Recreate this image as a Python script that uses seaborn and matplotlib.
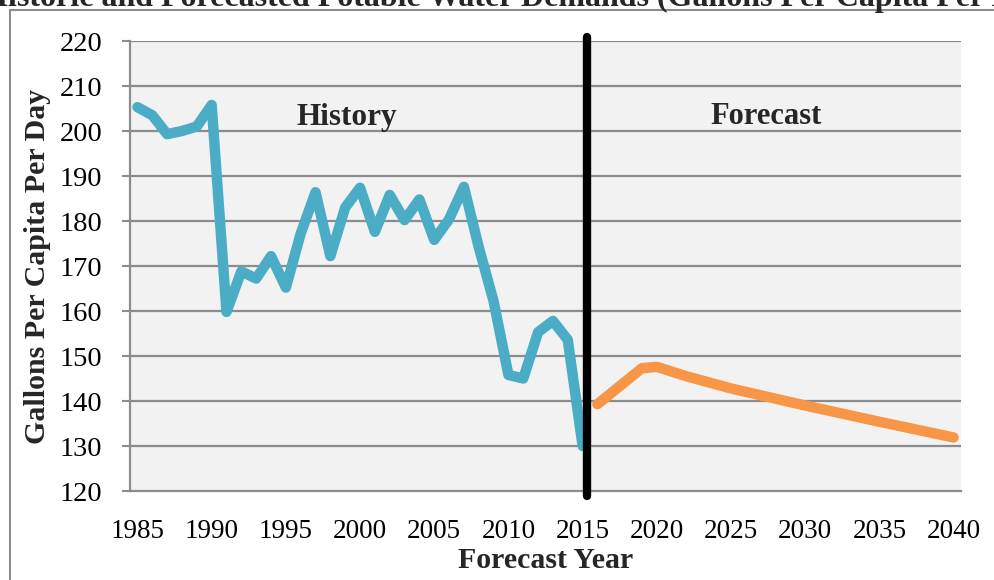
import matplotlib
matplotlib.use('Agg')
import matplotlib.pyplot as plt
import matplotlib.patches as patches
import seaborn as sns
import pandas as pd

# Historic per-capita demand
hist_years = list(range(1985, 2016))
hist_gpcd = [205.3, 203.5, 199.3, 200.0, 201.0, 205.8, 159.8, 168.8, 167.2, 172.2,
             165.2, 177.2, 186.4, 172.2, 183.0, 187.4, 177.6, 185.8, 180.2, 184.8,
             175.8, 180.4, 187.6, 174.2, 162.2, 145.8, 145.0, 155.3, 157.8, 153.6,
             130.0]

# Forecasted per-capita demand
fc_years = [2016, 2019, 2020, 2022, 2025, 2030, 2035, 2040]
fc_gpcd = [139.3, 147.3, 147.6, 145.5, 142.8, 139.0, 135.4, 131.9]

divider_year = 2015.3
year_labels = list(range(1985, 2041, 5))
gpcd_ticks = list(range(120, 221, 10))

hist = pd.DataFrame({'Year': hist_years, 'GPCD': hist_gpcd})
fc = pd.DataFrame({'Year': fc_years, 'GPCD': fc_gpcd})

sns.set_theme(style="white")
plt.rcParams['font.family'] = ['Liberation Serif', 'DejaVu Serif']

fig = plt.figure(figsize=(9.95, 5.8), dpi=100)
ax = fig.add_axes([0.1307, 0.1534, 0.8351, 0.7759])
ax.set_facecolor('#f2f2f2')

grid_c = '#8c8c8c'
for v in gpcd_ticks[1:]:
    ax.axhline(v, color=grid_c, lw=1.6, zorder=1)

sns.lineplot(data=hist, x='Year', y='GPCD', color='#4bacc6', lw=7.5, ax=ax,
             solid_capstyle='round', solid_joinstyle='round', zorder=3)
sns.lineplot(data=fc, x='Year', y='GPCD', color='#f79646', lw=7.5, ax=ax,
             solid_capstyle='round', solid_joinstyle='round', zorder=3)

ax.axvline(divider_year, ymin=-0.01, ymax=1.01, color='black', lw=6, zorder=4, clip_on=False)

ax.set_xlim(1984.5, 2040.5)
ax.set_ylim(120, 220)
ax.set_xticks(year_labels)
ax.set_xticks([y - 0.5 for y in year_labels], minor=True)
ax.set_yticks(gpcd_ticks)
ax.tick_params(axis='x', which='major', length=0, labelsize=19.5, pad=20, labelcolor='black')
ax.tick_params(axis='x', which='minor', length=7, width=1.5, color=grid_c, direction='out')
ax.tick_params(axis='y', length=6, width=1.5, color=grid_c, labelsize=20.5, pad=14, left=True,
               labelcolor='black')

for s in ['top', 'right']:
    ax.spines[s].set_visible(False)
for s in ['left', 'bottom']:
    ax.spines[s].set_color(grid_c)
    ax.spines[s].set_linewidth(1.6)

ax.set_xlabel('Forecast Year', fontsize=21.5, fontweight='bold', labelpad=2)
ax.set_ylabel('Gallons Per Capita Per Day', fontsize=21.5, fontweight='bold', labelpad=6)

ax.text(1999.1, 203.0, 'History', fontsize=22.5, fontweight='bold', ha='center', va='center')
ax.text(2027.4, 203.2, 'Forecast', fontsize=22, fontweight='bold', ha='center', va='center')

# title sits mostly off the top of the image, as in the original crop
fig.text(0.523, 0.99, 'Historic and Forecasted Potable Water Demands (Gallons Per Capita Per Day)',
         fontsize=23, fontweight='bold', ha='center', va='baseline')

# outer chart frame
frame = patches.Rectangle((10 / 995, -0.1), 1.2, 1.1 - 10 / 580, transform=fig.transFigure,
                          fill=False, edgecolor='#8c8c8c', lw=1.5, clip_on=False)
fig.patches.append(frame)

fig.savefig('out.png', dpi=100)
